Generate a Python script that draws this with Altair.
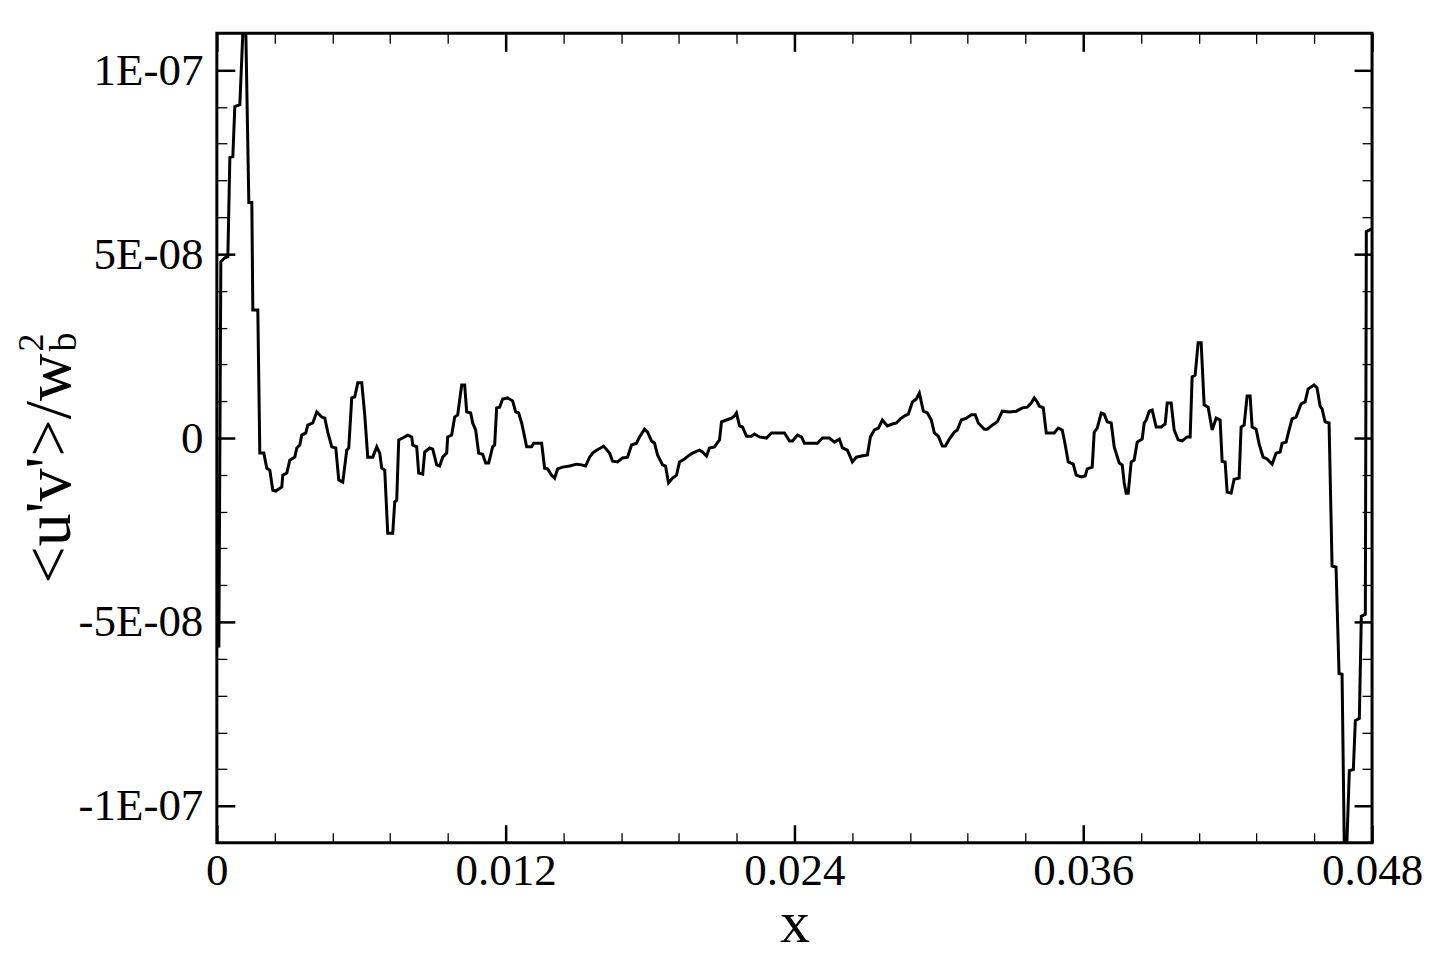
import altair as alt
import pandas as pd

# x positions in units of 1e-3, <u'v'>/w_b^2 in units of 1e-9
x_e3 = [0.000, 0.083, 0.166, 0.332, 0.457, 0.540, 0.664, 0.747, 0.955, 1.080, 1.142, 1.204,
        1.329, 1.453, 1.495, 1.702, 1.785, 1.952, 2.076, 2.201, 2.325, 2.450, 2.699, 2.740,
        2.907, 3.031, 3.239, 3.322, 3.446, 3.529, 3.695, 3.779, 3.986, 4.152, 4.360, 4.484,
        4.609, 4.775, 4.941, 5.066, 5.232, 5.398, 5.481, 5.605, 5.730, 5.855, 6.021, 6.145,
        6.270, 6.477, 6.644, 6.768, 6.851, 6.976, 7.100, 7.308, 7.391, 7.474, 7.557, 7.723,
        7.931, 8.097, 8.138, 8.304, 8.387, 8.554, 8.637, 8.844, 8.969, 9.135, 9.259, 9.384,
        9.550, 9.592, 9.758, 9.882, 10.007, 10.173, 10.297, 10.381, 10.547, 10.630, 10.754, 10.879,
        11.045, 11.169, 11.294, 11.460, 11.543, 11.626, 11.751, 11.875, 12.083, 12.291, 12.415, 12.540,
        12.664, 12.747, 12.872, 13.079, 13.162, 13.495, 13.619, 13.744, 13.910, 14.034, 14.159, 14.367,
        14.657, 14.948, 15.156, 15.322, 15.488, 15.612, 15.778, 15.944, 16.069, 16.318, 16.443, 16.650,
        16.858, 17.065, 17.232, 17.439, 17.564, 17.771, 17.896, 18.062, 18.187, 18.311, 18.519, 18.643,
        18.768, 18.934, 19.100, 19.225, 19.432, 19.640, 19.764, 20.055, 20.180, 20.346, 20.470, 20.678,
        20.886, 20.969, 21.176, 21.384, 21.508, 21.591, 21.716, 21.841, 22.007, 22.214, 22.339, 22.546,
        22.837, 23.045, 23.584, 23.796, 23.917, 24.129, 24.291, 24.415, 24.955, 25.162, 25.453, 25.661,
        25.868, 25.993, 26.200, 26.408, 26.574, 26.782, 27.031, 27.155, 27.321, 27.488, 27.654, 27.861,
        28.069, 28.235, 28.401, 28.567, 28.733, 28.899, 29.065, 29.190, 29.356, 29.522, 29.688, 29.813,
        29.979, 30.145, 30.270, 30.436, 30.643, 30.768, 30.934, 31.142, 31.349, 31.515, 31.640, 31.889,
        32.013, 32.221, 32.429, 32.636, 32.927, 33.218, 33.467, 33.674, 33.840, 33.965, 34.090, 34.173,
        34.339, 34.463, 34.795, 34.962, 35.128, 35.252, 35.377, 35.584, 35.709, 35.917, 36.082, 36.166,
        36.373, 36.456, 36.581, 36.747, 36.872, 36.996, 37.162, 37.287, 37.494, 37.619, 37.702, 37.785,
        37.868, 37.993, 38.117, 38.242, 38.449, 38.533, 38.616, 38.740, 38.865, 39.031, 39.238, 39.404,
        39.488, 39.654, 39.778, 39.944, 40.110, 40.318, 40.442, 40.525, 40.650, 40.774, 40.899, 41.024,
        41.190, 41.356, 41.522, 41.688, 41.771, 41.896, 41.979, 42.145, 42.269, 42.477, 42.560, 42.685,
        42.809, 42.934, 43.017, 43.183, 43.308, 43.473, 43.640, 43.848, 44.013, 44.180, 44.263, 44.429,
        44.553, 44.678, 44.844, 45.052, 45.218, 45.342, 45.591, 45.716, 45.840, 45.923, 46.048, 46.214,
        46.339, 46.504, 46.629, 46.754, 46.876, 47.057, 47.223, 47.306, 47.472, 47.555, 47.721, 47.763,
        48.000]

uv_e9 = [-55.0, -56.9, 47.9, 49.0, 49.3, 76.2, 76.5, 90.1, 90.6, 110.2, 120.0, 110.2,
         64.0, 64.0, 34.8, 34.8, -4.1, -4.1, -8.2, -8.7, -14.2, -14.4, -13.3, -10.1,
         -9.5, -6.0, -5.2, -2.7, -1.9, 0.8, 1.4, 3.5, 4.1, 7.1, 5.7, 5.4,
         1.6, -2.4, -2.7, -11.4, -12.0, -3.3, -2.7, 10.9, 11.2, 15.0, 15.0, 6.3,
         -5.2, -5.2, -2.4, -4.1, -8.2, -8.7, -25.9, -25.9, -17.4, -16.9, -0.5, 0.0,
         0.8, 0.3, -1.9, -2.4, -9.5, -9.8, -3.8, -2.7, -3.0, -7.3, -7.6, -5.2,
         -4.1, 0.3, 0.8, 5.7, 6.3, 14.4, 14.4, 7.1, 6.8, 4.1, 2.2, -4.1,
         -4.4, -6.8, -6.8, -2.4, -1.9, 8.2, 8.4, 10.6, 10.9, 10.1, 7.1, 6.8,
         4.1, 1.6, -2.4, -2.4, -1.4, -1.4, -8.2, -8.4, -10.1, -10.9, -8.4, -7.9,
         -7.6, -7.1, -7.3, -7.6, -5.2, -4.1, -3.3, -2.7, -2.2, -4.1, -6.3, -6.5,
         -5.4, -5.2, -1.9, -1.4, 0.3, 2.4, 1.6, -0.8, -1.4, -4.6, -7.3, -7.6,
         -12.2, -10.9, -10.1, -6.5, -5.7, -4.6, -4.1, -3.3, -3.8, -4.9, -2.7, -2.4,
         -0.5, 4.4, 4.9, 5.4, 6.0, 6.8, 3.3, 3.0, 0.5, 0.5, 1.1, 0.3,
         0.0, 1.4, 1.4, -0.8, -0.8, 0.8, 0.3, -1.4, -1.4, 0.0, 0.0, -1.1,
         -0.3, -2.7, -3.3, -6.5, -5.2, -4.9, -4.6, 0.3, 2.2, 2.7, 4.9, 3.3,
         3.8, 4.1, 5.2, 6.0, 6.5, 9.8, 10.6, 12.2, 7.3, 6.8, 4.9, 1.4,
         0.5, -2.2, -2.2, -0.3, 1.6, 2.2, 4.9, 5.4, 6.3, 6.3, 4.1, 2.4,
         2.4, 3.5, 4.4, 7.3, 7.1, 7.3, 8.2, 8.4, 9.5, 10.9, 9.8, 8.7,
         8.2, 1.4, 1.4, 2.7, 2.2, -1.9, -6.5, -7.1, -10.1, -10.6, -10.3, -8.4,
         -7.9, 1.6, 2.7, 6.8, 6.5, 4.4, 4.1, -2.4, -6.8, -7.3, -12.2, -15.0,
         -15.0, -6.5, -6.0, -1.1, -0.3, 4.1, 4.9, 7.3, 7.6, 3.0, 3.0, 3.8,
         9.5, 9.5, 2.2, -0.5, -0.8, 0.3, 0.3, 16.6, 17.1, 25.9, 25.9, 9.0,
         8.4, 2.2, 5.4, 4.9, -6.3, -6.5, -14.7, -15.0, -11.2, -10.9, 3.0, 3.5,
         11.4, 11.4, 3.0, 2.4, -1.6, -5.2, -5.7, -7.1, -4.1, -3.8, -1.4, -1.1,
         2.2, 5.2, 5.7, 9.3, 9.8, 13.3, 14.4, 13.6, 8.7, 7.9, 4.4, 4.1,
         -34.8, -35.1, -64.0, -64.2, -125.5, -90.4, -90.1, -76.8, -76.2, -48.4, -47.9, 56.1,
         56.9]

x_major = [0.0, 0.012, 0.024, 0.036, 0.048]
x_labels = ["0", "0.012", "0.024", "0.036", "0.048"]
y_major = [-1e-7, -5e-8, 0.0, 5e-8, 1e-7]
y_labels = ["-1E-07", "-5E-08", "0", "5E-08", "1E-07"]
x_minor = [round(0.0024 * k, 6) for k in range(1, 20) if k % 5]
y_minor = [k * 1e-8 for k in range(-10, 11) if k % 5]

x_title = "x"
y_title_main = "<u'v'>/w"
y_title_sub = "b"
y_title_sup = "2"

FONT = "Liberation Serif"
W, H = 1156, 810

df = pd.DataFrame({
    "x": [v * 1e-3 for v in x_e3],
    "y": [v * 1e-9 for v in uv_e9],
    "i": list(range(len(x_e3))),
})


def label_expr(vals, labels):
    expr = "'" + labels[-1] + "'"
    for k in range(len(vals) - 2, -1, -1):
        mid = (vals[k] + vals[k + 1]) / 2
        expr = f"datum.value < {mid!r} ? '{labels[k]}' : ({expr})"
    return expr


xs = alt.Scale(domain=[0, 0.048], nice=False, zero=False)
ys = alt.Scale(domain=[-1.1e-7, 1.1e-7], nice=False, zero=False)

common = dict(domain=False, grid=False, tickColor="black", labelFlush=False,
              labelOverlap=False, labelFont=FONT, labelColor="black")
ytitle = dict(titleFont=FONT, titleFontWeight="normal", titleColor="black", titleAngle=270,
              titleAlign="left", titleBaseline="alphabetic")

LAB = 45
MAJ = 18
MIN = 10
# title anchor points in plot coordinates (baseline x, start y)
MAIN_X, MAIN_Y = -147, 550
SUB_X, SUB_Y = -141, 318
SUP_X, SUP_Y = -174, 318

x_bot_major = alt.Axis(orient="bottom", values=x_major, labelExpr=label_expr(x_major, x_labels),
                       tickSize=MAJ, offset=-MAJ, tickWidth=2.5, labelFontSize=LAB, labelPadding=6,
                       title=x_title, titleFont=FONT, titleFontSize=60, titleFontWeight="normal",
                       titleColor="black", titleBaseline="alphabetic", titleY=117, **common)
y_left_major = alt.Axis(orient="left", values=y_major, labelExpr=label_expr(y_major, y_labels),
                        tickSize=MAJ, offset=-MAJ, tickWidth=2.5, labelFontSize=LAB, labelPadding=14,
                        title=y_title_main, titleFontSize=66, titleX=MAIN_X - MAJ, titleY=MAIN_Y,
                        **ytitle, **common)
x_bot_minor = alt.Axis(orient="bottom", values=x_minor, labels=False, tickSize=MIN, offset=-MIN,
                       tickWidth=1.3, title=None, **common)
y_left_minor = alt.Axis(orient="left", values=y_minor, labels=False, tickSize=MIN, offset=-MIN,
                        tickWidth=1.3, title=y_title_sub, titleFontSize=38,
                        titleX=SUB_X - MIN, titleY=SUB_Y, **ytitle, **common)
x_top_major = alt.Axis(orient="top", values=x_major, labels=False, tickSize=MAJ, offset=-MAJ,
                       tickWidth=2.5, title=None, **common)
y_right_major = alt.Axis(orient="right", values=y_major, labels=False, tickSize=MAJ, offset=-MAJ,
                         tickWidth=2.5, title=y_title_sup, titleFontSize=36,
                         titleX=SUP_X - (W - MAJ), titleY=SUP_Y, **ytitle, **common)
x_top_minor = alt.Axis(orient="top", values=x_minor, labels=False, tickSize=MIN, offset=-MIN,
                       tickWidth=1.3, title=None, **common)
y_right_minor = alt.Axis(orient="right", values=y_minor, labels=False, tickSize=MIN, offset=-MIN,
                         tickWidth=1.3, title=None, **common)

base = alt.Chart(df)


def line_layer(xa, ya, visible):
    return base.mark_line(color="black", strokeWidth=3 if visible else 0.01, clip=True,
                          strokeOpacity=1 if visible else 0).encode(
        x=alt.X("x:Q", scale=xs, axis=xa),
        y=alt.Y("y:Q", scale=ys, axis=ya),
        order="i:Q",
    )


l1 = line_layer(x_bot_major, y_left_major, True)
l2 = line_layer(x_bot_minor, y_left_minor, False)
l3 = line_layer(x_top_major, y_right_major, False)
l4 = line_layer(x_top_minor, y_right_minor, False)

chart = alt.layer(l2, l3, l4, l1).resolve_axis(
    x="independent", y="independent"
).properties(
    width=W, height=H,
    padding={"left": 209, "top": 25, "right": 60, "bottom": 112},
    autosize=alt.AutoSizeParams(type="none"),
    background="white",
).configure_view(stroke="black", strokeWidth=3)

chart.save("out.html", embed_options={"renderer": "svg", "actions": False})
